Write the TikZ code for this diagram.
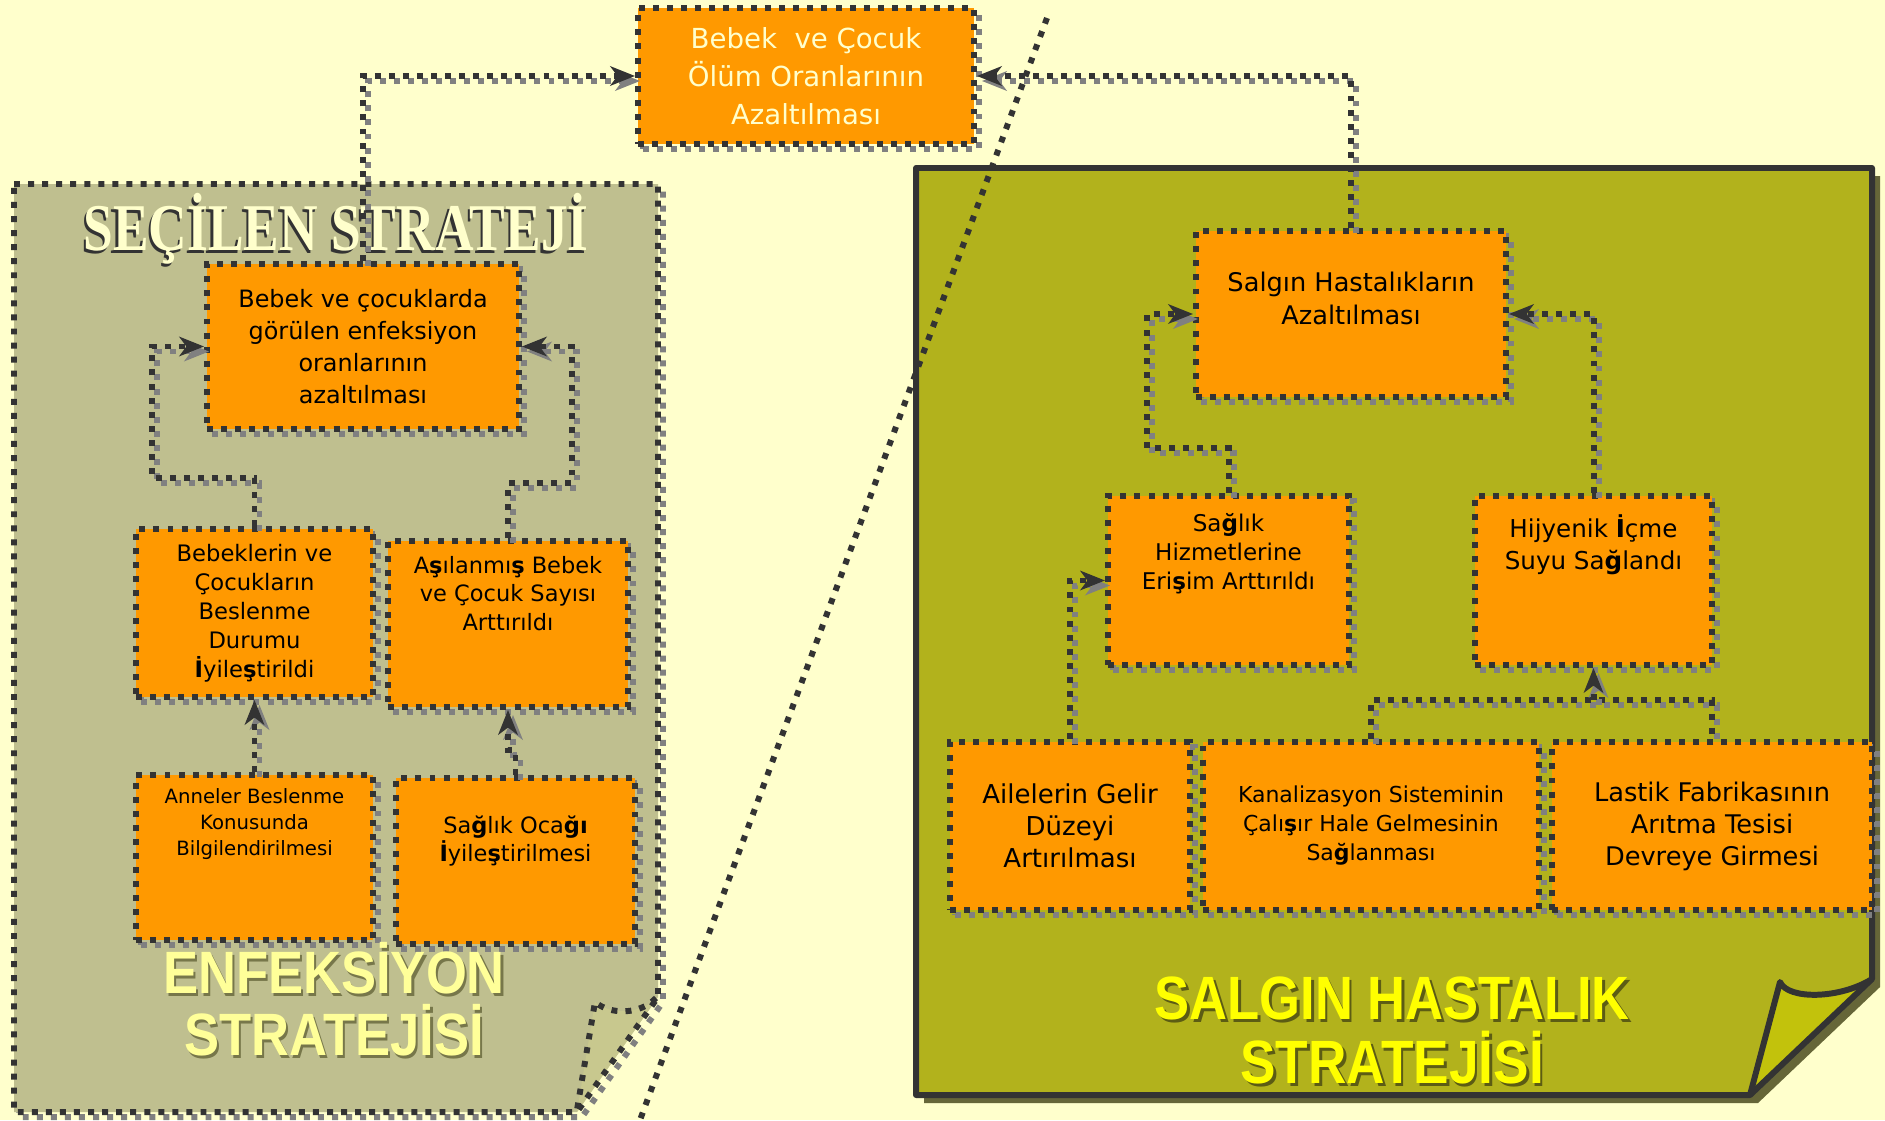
\documentclass[tikz,border=0pt]{standalone}
\usepackage{fontspec}
\setmainfont{DejaVu Sans}
\newfontfamily\headserif{Liberation Serif}
\newfontfamily\headsans{Liberation Sans}
\usepackage{graphicx}
\usetikzlibrary{arrows.meta, positioning}

\definecolor{bgyellow}{HTML}{FFFFCC}
\definecolor{khaki}{HTML}{BFBF8F}
\definecolor{flapkhaki}{HTML}{C8C88E}
\definecolor{olivepanel}{HTML}{B2B21C}
\definecolor{flapolive}{HTML}{C2C20C}
\definecolor{panelshadow}{HTML}{666638}
\definecolor{boxorange}{HTML}{FF9900}
\definecolor{dotdark}{HTML}{333333}
\definecolor{shadegray}{HTML}{808080}
\definecolor{titlecream}{HTML}{FFFFCC}
\definecolor{titlepale}{HTML}{FFFF99}
\definecolor{titleyellow}{HTML}{FFFF00}
\definecolor{titleshadow}{HTML}{77774A}
\definecolor{salginshadow}{HTML}{5C5C14}

\newcommand{\bfch}[1]{{\bfseries #1}}
\newcommand{\toptext}[3]{\parbox[c][#1][t]{#2}{\centering #3}}
\newcommand{\shtxt}[4]{\makebox[0pt][l]{\hspace*{#1}\raisebox{-0.8pt}{\color{#2}#4}}{\color{#3}#4}}

\tikzstyle{dotline} = [line width=1.7pt, dash pattern=on 1.7pt off 2.3pt]
\tikzstyle{shadowline} = [dotline, draw=shadegray, 
transform canvas={shift={(0.05cm,-0.05cm)}}]
\tikzstyle{box} = [rectangle, 
dotline, 
draw=dotdark, 
fill=boxorange, 
text=black, 
align=center, 
inner sep=2pt, 
preaction={shadowline}]
\tikzstyle{link} = [dotline, draw=dotdark, preaction={shadowline}]
\tikzstyle{arrow} = [dotline, draw=dotdark, 
-{Stealth[length=7pt,width=5.5pt,inset=2pt]},
preaction={shadowline, -{Stealth[length=7pt,width=5.5pt,inset=2pt]}}]

\begin{document}
\begin{tikzpicture}[node distance=2.0cm]

\useasboundingbox (0,0) rectangle (18.85,-11.20);
\fill [bgyellow] (0,0) rectangle (18.85,-11.20);

% enfeksiyon panel
\fill [khaki, preaction={shadowline}] (0.14,-1.84) -- (6.58,-1.84) -- (6.58,-9.97) -- (5.77,-11.12) -- (0.14,-11.12) -- cycle;
\fill [flapkhaki] (6.58,-9.97) .. controls (6.40,-10.15) and (6.10,-10.15) .. (5.95,-10.02) -- (5.77,-11.12) -- cycle;
\draw [dotline, draw=dotdark] (0.14,-1.84) -- (6.58,-1.84) -- (6.58,-9.97) -- (5.77,-11.12) -- (0.14,-11.12) -- cycle;
\draw [dotline, draw=dotdark] (6.56,-9.98) .. controls (6.40,-10.15) and (6.10,-10.15) .. (5.95,-10.02) -- (5.77,-11.10);

% salgin panel
\fill [olivepanel, preaction={fill=panelshadow, transform canvas={shift={(0.08cm,-0.08cm)}}}] (9.16,-1.68) -- (18.72,-1.68) -- (18.72,-9.79) -- (17.50,-10.95) -- (9.16,-10.95) -- cycle;
\fill [flapolive] (18.72,-9.79) .. controls (18.40,-9.99) and (17.88,-10.00) .. (17.80,-9.82) -- (17.50,-10.95) -- cycle;
\draw [line width=1.7pt, dotdark, line join=round] (9.16,-1.68) -- (18.72,-1.68) -- (18.72,-9.79) -- (17.50,-10.95) -- (9.16,-10.95) -- cycle;
\draw [line width=1.7pt, dotdark, line join=round] (18.72,-9.79) .. controls (18.40,-9.99) and (17.88,-10.00) .. (17.80,-9.82) -- (17.50,-10.95);

\node (T) [box, minimum width=3.36cm, minimum height=1.36cm, text=titlecream, font=\fontsize{7.85}{10.8}\selectfont] at (8.06,-0.76) {Bebek\ \ ve Çocuk\\Ölüm Oranlarının\\Azaltılması};

\node (B1) [box, minimum width=3.12cm, minimum height=1.65cm, font=\fontsize{6.8}{9.1}\selectfont] at (3.63,-3.465) {Bebek ve çocuklarda\\görülen enfeksiyon\\oranlarının\\azaltılması};
\node (B2) [box, minimum width=2.37cm, minimum height=1.68cm, font=\fontsize{6.45}{8.25}\selectfont] at (2.545,-6.13) {Bebeklerin ve\\Çocukların\\Beslenme\\Durumu\\\bfch{İ}yile\bfch{ş}tirildi};
\node (B3) [box, minimum width=2.40cm, minimum height=1.66cm, font=\fontsize{6.4}{8.2}\selectfont] at (5.08,-6.24) {\toptext{1.36cm}{2.2cm}{A\bfch{ş}ılanmı\bfch{ş} Bebek\\ve Çocuk Sayısı\\Arttırıldı}};
\node (B4) [box, below of=B2, yshift=-0.445cm, minimum width=2.37cm, minimum height=1.65cm, font=\fontsize{5.6}{7.4}\selectfont] {\toptext{1.37cm}{2.2cm}{Anneler Beslenme\\Konusunda\\Bilgilendirilmesi}};
\node (B5) [box, below of=B3, xshift=0.075cm, yshift=-0.37cm, minimum width=2.39cm, minimum height=1.66cm, font=\fontsize{6.4}{8}\selectfont] {\toptext{0.9cm}{2.2cm}{Sa\bfch{ğ}lık Oca\bfch{ğı}\\\bfch{İ}yile\bfch{ş}tirilmesi}};

\node (R1) [box, minimum width=3.10cm, minimum height=1.66cm, font=\fontsize{7.3}{9.4}\selectfont] at (13.51,-3.14) {\toptext{0.84cm}{2.9cm}{Salgın Hastalıkların\\Azaltılması}};
\node (R2) [box, minimum width=2.41cm, minimum height=1.69cm, font=\fontsize{6.55}{8.25}\selectfont] at (12.285,-5.805) {\toptext{1.35cm}{2.2cm}{Sa\bfch{ğ}lık\\Hizmetlerine\\Eri\bfch{ş}im Arttırıldı}};
\node (R3) [box, right of=R2, xshift=1.65cm, minimum width=2.37cm, minimum height=1.69cm, font=\fontsize{7}{9.1}\selectfont] {\toptext{1.31cm}{2.2cm}{Hijyenik \bfch{İ}çme\\Suyu Sa\bfch{ğ}landı}};
\node (R4) [box, minimum width=2.40cm, minimum height=1.68cm, font=\fontsize{7.4}{9.1}\selectfont] at (10.70,-8.26) {Ailelerin Gelir\\Düzeyi\\Artırılması};
\node (R5) [box, right of=R4, xshift=1.01cm, minimum width=3.36cm, minimum height=1.68cm, font=\fontsize{6.25}{8.25}\selectfont] {Kanalizasyon Sisteminin\\Çalı\bfch{ş}ır Hale Gelmesinin\\Sa\bfch{ğ}lanması};
\node (R6) [box, right of=R5, xshift=1.41cm, minimum width=3.20cm, minimum height=1.68cm, font=\fontsize{7.3}{9.1}\selectfont] {Lastik Fabrikasının\\Arıtma Tesisi\\Devreye Girmesi};

% titles
\node (selTitle) at (3.36,-2.30) {\headserif\bfseries\fontsize{19}{22}\selectfont\scalebox{0.80}[1]{\shtxt{-0.8pt}{dotdark}{titlecream}{SEÇİLEN STRATEJİ}}};
\node (enfTitle) [align=center, font=\headsans\bfseries\fontsize{17}{17.6}\selectfont] at (3.34,-10.01) {\scalebox{0.88}[1]{\shtxt{0.8pt}{titleshadow}{titlepale}{ENFEKSİYON}}\\\scalebox{0.88}[1]{\shtxt{0.8pt}{titleshadow}{titlepale}{STRATEJİSİ}}};
\node (salTitle) [align=center, font=\headsans\bfseries\fontsize{17.4}{18.4}\selectfont] at (13.92,-10.32) {\scalebox{0.86}[1]{\shtxt{0.9pt}{salginshadow}{titleyellow}{SALGIN HASTALIK}}\\\scalebox{0.87}[1]{\shtxt{0.9pt}{salginshadow}{titleyellow}{STRATEJİSİ}}};

\draw [arrow] (B1.north) |- (T.west);
\draw [arrow] (R1.north) |- (T.east);

\draw [arrow] (B2.north) -- ++(0,0.48) -| ([xshift=-0.52cm]B1.west) -- (B1.west);
\draw [arrow] (B3.north) -- ++(0,0.55) -| ([xshift=0.5cm]B1.east) -- (B1.east);
\draw [arrow] (B4.north) -- (B2.south);
\draw [arrow] (B5.north) -- ++(0,0.25) -| (B3.south);

\draw [arrow] (R2.north) -- ++(0,0.45) -| ([xshift=-0.46cm]R1.west) -- (R1.west);
\draw [arrow] (R3.north) |- (R1.east);
\draw [arrow] (R4.north) |- (R2.west);
\draw [link] (R5.north) -- ++(0,0.39) coordinate (bar) -| (R6.north);
\draw [arrow] (R3.south |- bar) -- (R3.south);

% dividing line
\draw [dotline, draw=dotdark] (10.47,-0.18) -- (6.40,-11.20);

\end{tikzpicture}
\end{document}
